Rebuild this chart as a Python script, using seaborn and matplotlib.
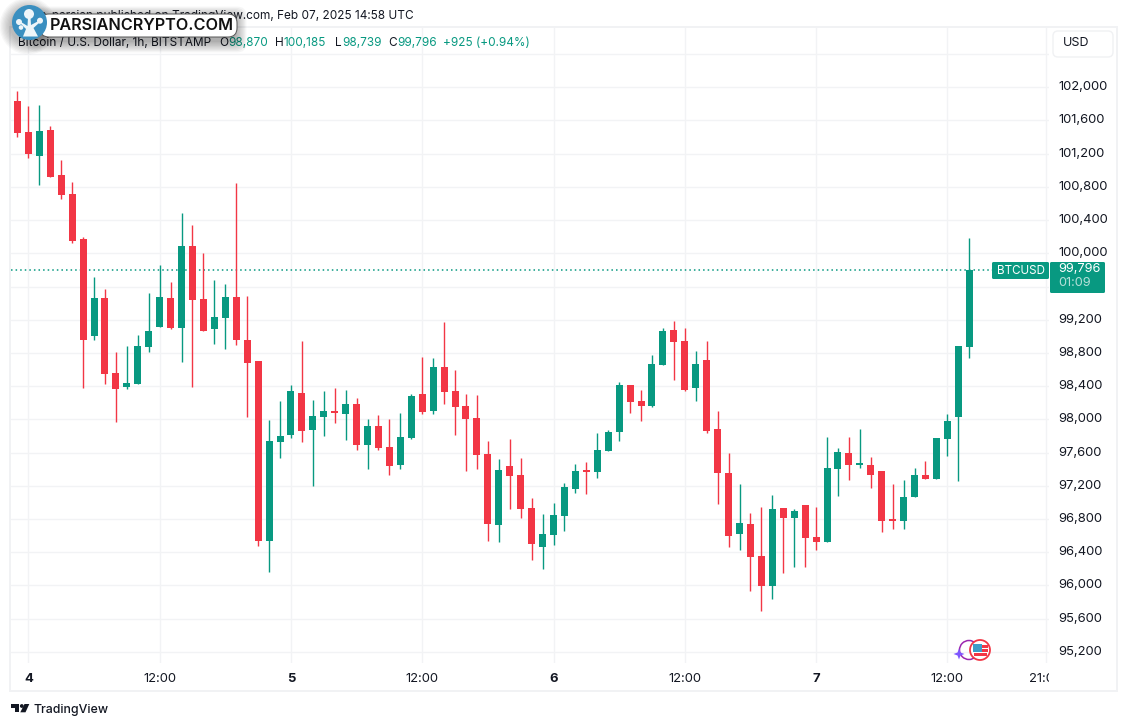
import matplotlib
matplotlib.use('Agg')
import matplotlib.pyplot as plt
from matplotlib.patches import Circle, FancyBboxPatch, Polygon, Rectangle
from matplotlib.transforms import Bbox, ScaledTranslation
import pandas as pd
import seaborn as sns

opens = [101835, 101462, 101177, 101486, 100944, 100715, 100173, 99008, 99462, 98558,
         98394, 98430, 98876, 99117, 99462, 99104, 100088, 99450, 99092, 99225,
         99474, 98956, 98698, 96533, 97726, 97810, 98312, 97871, 98027, 98084,
         98063, 98180, 97690, 97915, 97662, 97449, 97774, 98300, 98100, 98626,
         98337, 98156, 98011, 97578, 96726, 97433, 97325, 96927, 96461, 96606,
         96835, 97160, 97373, 97365, 97618, 97847, 98409, 98216, 98160, 98654,
         99071, 98939, 98377, 98710, 97879, 97349, 96618, 96739, 96353, 95996,
         96932, 96815, 96968, 96582, 96526, 97406, 97594, 97450, 97450, 97378,
         96787, 96779, 97068, 97329, 97285, 97767, 98032, 98870]
highs = [101956, 101775, 101787, 101534, 101125, 100859, 100197, 99715, 99570, 98811,
         98884, 99016, 99522, 99859, 99655, 100486, 100341, 100004, 99679, 99631,
         100847, 99486, 98698, 97987, 98216, 98409, 98939, 98228, 98337, 98373,
         98349, 98252, 97999, 98047, 97999, 98072, 98300, 98746, 98734, 99168,
         98590, 98300, 98288, 97734, 97517, 97758, 97529, 97047, 96855, 96987,
         97228, 97457, 97481, 97831, 97867, 98445, 98409, 98349, 98770, 99096,
         99180, 99096, 98818, 98939, 98096, 97590, 97216, 96867, 96944, 97088,
         96932, 96920, 96968, 96944, 97787, 97655, 97787, 97884, 97546, 97378,
         97221, 97269, 97414, 97498, 97775, 98064, 98884, 100185]
lows = [101406, 101153, 100827, 100924, 100659, 100129, 98382, 98960, 98430, 97972,
        98370, 98430, 98815, 99117, 99092, 98695, 98394, 99068, 98912, 98851,
        98900, 98032, 96473, 96160, 97533, 97774, 97726, 97196, 97798, 97955,
        97750, 97630, 97401, 97630, 97329, 97401, 97762, 98063, 98063, 98184,
        97810, 97377, 97401, 96533, 96521, 96919, 96810, 96304, 96196, 96485,
        96654, 97112, 97100, 97292, 97618, 97738, 98076, 97979, 98148, 98654,
        98473, 98341, 98220, 97835, 96979, 96461, 96425, 95931, 95695, 95839,
        96153, 96225, 96225, 96430, 96526, 97080, 97273, 97418, 97177, 96647,
        96683, 96683, 97068, 97285, 97285, 97562, 97261, 98739]
closes = [101454, 101201, 101474, 100924, 100707, 100153, 98960, 99462, 98550, 98370,
          98438, 98884, 99064, 99474, 99104, 100088, 99442, 99068, 99233, 99474,
          98960, 98683, 96533, 97734, 97794, 98337, 97859, 98035, 98096, 98072,
          98180, 97690, 97915, 97654, 97437, 97782, 98276, 98088, 98626, 98329,
          98148, 98003, 97570, 96738, 97385, 97316, 96919, 96497, 96614, 96843,
          97180, 97373, 97365, 97626, 97843, 98409, 98208, 98160, 98662, 99059,
          98931, 98353, 98662, 97859, 97353, 96594, 96746, 96345, 95996, 96920,
          96815, 96896, 96574, 96526, 97414, 97606, 97454, 97462, 97333, 96779,
          96775, 97064, 97329, 97285, 97775, 97980, 98884, 99796]

price_ticks = [95200, 95600, 96000, 96400, 96800, 97200, 97600, 98000, 98400, 98800,
               99200, 99600, 100000, 100400, 100800, 101200, 101600, 102000]
grid_only_ticks = [102400]
hidden_price_labels = [99600]  # sits behind the last price box
time_ticks = [1, 13, 25, 37, 49, 61, 73, 85, 94]
time_labels = ['4', '12:00', '5', '12:00', '6', '12:00', '7', '12:00', '21:00']
last_price = 99796

GREEN = '#089981'
RED = '#F23645'
DARK = '#131722'
GRID = '#f2f3f5'

df = pd.DataFrame({'t': range(len(opens)), 'open': opens, 'high': highs, 'low': lows, 'close': closes})
df['bottom'] = df[['open', 'close']].min(axis=1)
df['height'] = (df['close'] - df['open']).abs().clip(lower=30)
df['up'] = df['close'] >= df['open']

sns.set_theme(style='white')
plt.rcParams['font.family'] = ['Inter', 'DejaVu Sans']

W, H = 1127, 726
fig = plt.figure(figsize=(W / 100, H / 100), dpi=100, facecolor='white')
ax = fig.add_axes([10.5 / W, 1 - 663 / H, (1049 - 10.5) / W, (663 - 27) / H])

for is_up, color in [(True, GREEN), (False, RED)]:
    part = df[df['up'] == is_up]
    wicks = part.melt(id_vars='t', value_vars=['high', 'low'], value_name='price')
    sns.lineplot(data=wicks, x='t', y='price', units='t', estimator=None, color=color,
                 linewidth=1.0, solid_capstyle='butt', ax=ax, zorder=3)
    sns.barplot(data=part, x='t', y='height', bottom=part['bottom'].values, native_scale=True,
                color=color, saturation=1, width=0.64, errorbar=None, linewidth=0, ax=ax, zorder=4)

ax.axhline(last_price, color=GREEN, linewidth=1.1, linestyle=(0, (1, 2)), zorder=2)

ax.set_xlim(-0.635, 94.29)
ax.set_ylim(95065, 102726)
ax.set_xlabel('')
ax.set_ylabel('')
for s in ax.spines.values():
    s.set_visible(False)
ax.set_axisbelow(True)
ax.set_yticks(price_ticks + grid_only_ticks)
ax.set_yticklabels(['' if p in hidden_price_labels else f'{p:,}' for p in price_ticks] + [''])
ax.set_xticks(time_ticks)
ax.set_xticklabels(time_labels)
ax.yaxis.tick_right()
ax.grid(True, color=GRID, linewidth=1.0)
ax.tick_params(axis='y', length=0, pad=7, labelsize=9.4, labelcolor=DARK)
ax.tick_params(axis='x', length=0, pad=7, labelsize=9.4, labelcolor=DARK)
for lbl in ax.get_xticklabels():
    if ':' not in lbl.get_text():
        lbl.set_fontweight('bold')
    lbl.set_clip_on(True)
    lbl.set_clip_box(Bbox([[0, 0], [1049, H]]))
nudge = ScaledTranslation(0, 1.5 / 100, fig.dpi_scale_trans)
for lbl in ax.get_yticklabels():
    lbl.set_transform(lbl.get_transform() + nudge)

# overlay in pixel coordinates for the page furniture
ov = fig.add_axes([0, 0, 1, 1], zorder=10)
ov.set_xlim(0, W)
ov.set_ylim(H, 0)
ov.axis('off')
ov.patch.set_alpha(0)

ov.add_patch(Rectangle((10, 26.5), 1107, 664.5, fill=False, edgecolor='#f1f2f4', linewidth=1.4))

ov.text(414, 15.7, 'reza_parsian published on TradingView.com, Feb 07, 2025 14:58 UTC', ha='right', va='center',
        fontsize=8.5, color=DARK)

ov.text(18, 42.7, 'Bitcoin / U.S. Dollar, 1h, BITSTAMP', va='center', fontsize=8.5, color=DARK)
for x, s in [(219, 'O'), (275, 'H'), (335.5, 'L'), (388.3, 'C')]:
    ov.text(x, 42.7, s, va='center', fontsize=8.5, color=DARK)
for x, s in [(228, '98,870'), (284, '100,185'), (342, '98,739'), (397.3, '99,796'), (443, '+925 (+0.94%)')]:
    ov.text(x, 42.7, s, va='center', fontsize=8.5, color=GREEN)

# USD button
ov.add_patch(FancyBboxPatch((1056, 34), 54, 20, boxstyle='round,pad=3,rounding_size=5',
                            facecolor='white', edgecolor='#f0f1f3', linewidth=1.0))
ov.text(1062.5, 43.5, 'USD', va='center', fontsize=9.0, color=DARK)

# last price labels
ov.add_patch(FancyBboxPatch((993, 263), 55, 15, boxstyle='round,pad=1,rounding_size=1.5',
                            facecolor=GREEN, edgecolor='none'))
ov.text(996.5, 270.5, 'BTCUSD', va='center', fontsize=8.4, color='white')
ov.add_patch(FancyBboxPatch((1051, 263), 53, 29, boxstyle='round,pad=1,rounding_size=1.5',
                            facecolor=GREEN, edgecolor='none'))
ov.text(1058, 269.5, '99,796', va='center', fontsize=9.2, color='white')
ov.text(1058, 283.5, '01:09', va='center', fontsize=9.2, color='#b5e0d8')

# event markers
ov.add_patch(Circle((969, 650), 9.5, fill=False, edgecolor='#9c27b0', linewidth=1.1))
ov.add_patch(Polygon([(953.5, 654), (957.5, 652.5), (959, 648.5), (960.5, 652.5), (964.5, 654),
                      (960.5, 655.5), (959, 659.5), (957.5, 655.5)], facecolor='#7e57ff', edgecolor='none', zorder=3))
ov.add_patch(Circle((980, 650), 10, facecolor='white', edgecolor=RED, linewidth=1.3, zorder=3))
ov.add_patch(Rectangle((973, 643.5), 9, 8, facecolor='#3d9cc8', edgecolor='none', zorder=4))
ov.add_patch(Rectangle((982, 645), 6, 2.5, facecolor=RED, edgecolor='none', zorder=4))
ov.add_patch(Rectangle((982, 649), 6, 2.5, facecolor=RED, edgecolor='none', zorder=4))
ov.add_patch(Rectangle((974, 653), 13, 3, facecolor=RED, edgecolor='none', zorder=4))

# TradingView logo
ov.add_patch(Polygon([(10.7, 704), (19, 704), (19, 712.3), (15, 712.3), (15, 708), (10.7, 708)],
                     facecolor=DARK, edgecolor='none'))
ov.add_patch(Circle((21.8, 706), 1.9, facecolor=DARK, edgecolor='none'))
ov.add_patch(Polygon([(24.5, 704), (29.3, 704), (25.5, 712.3), (20.3, 712.3)], facecolor=DARK, edgecolor='none'))
ov.text(34, 709.8, 'TradingView', va='center', fontsize=8.9, color=DARK, fontweight='medium')

# watermark
for i in range(9):
    grow = 1 + i * 1.3
    ov.add_patch(FancyBboxPatch((40 - grow - 2, 14 - grow + 4), 197 + 2 * grow, 23 + 2 * grow,
                                boxstyle='round,pad=0,rounding_size=9', facecolor='black',
                                edgecolor='none', alpha=0.04, zorder=20))
    ov.add_patch(Circle((28, 26), 17 + grow, facecolor='black', edgecolor='none', alpha=0.03, zorder=20))
ov.add_patch(FancyBboxPatch((40, 14), 197, 23, boxstyle='round,pad=0,rounding_size=9', facecolor='white',
                            edgecolor='#555555', linewidth=0.7, zorder=21))
ov.add_patch(Circle((29.5, 22.5), 17.5, facecolor='#3a8fc0', edgecolor='none', zorder=22))
white = '#eef5f9'
ov.add_patch(Circle((29, 14), 5, facecolor=white, edgecolor='none', zorder=23))
ov.add_patch(Circle((19, 22), 3, facecolor=white, edgecolor='none', zorder=23))
ov.add_patch(Circle((40, 20.7), 3, facecolor=white, edgecolor='none', zorder=23))
ov.add_patch(Circle((21, 27.5), 2.3, facecolor=white, edgecolor='none', zorder=23))
ov.add_patch(Polygon([(28, 17), (30.5, 17), (31, 25), (38.5, 21), (39.5, 22.5), (33.5, 28), (38, 36.5), (23, 36.5),
                      (26, 29), (20, 23), (21, 22), (27.5, 26)], facecolor=white, edgecolor='none', zorder=23))
ov.text(50, 25.7, 'PARSIANCRYPTO.COM', va='center', fontsize=11.7, color='#111111', fontweight='semibold',
        family=['Inter', 'DejaVu Sans'], zorder=24)

fig.savefig('out.png', dpi=100)
